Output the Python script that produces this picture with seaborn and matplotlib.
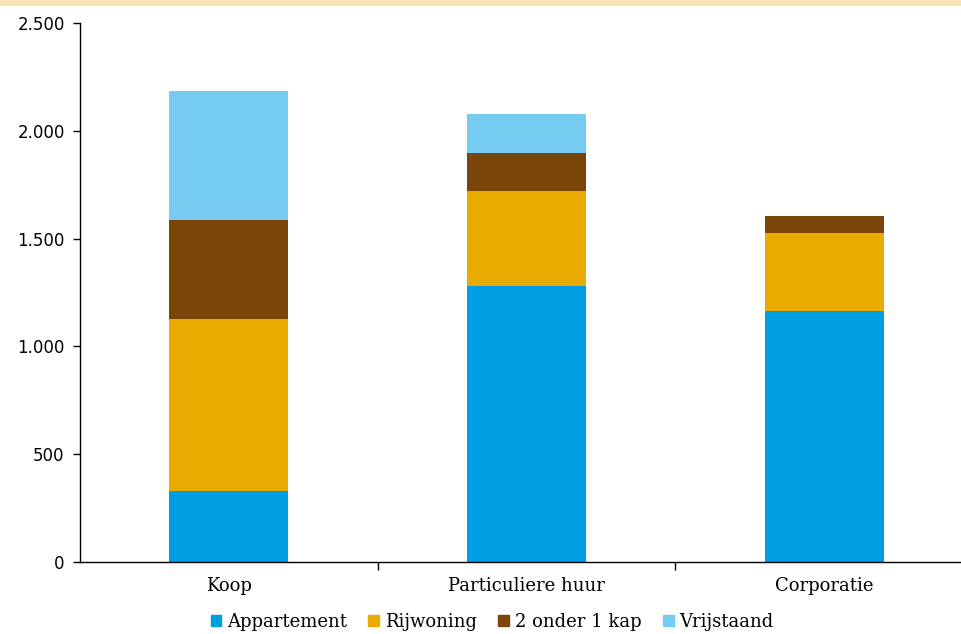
import numpy as np
import pandas as pd
import matplotlib.pyplot as plt
import matplotlib.patches as mpatches
import seaborn as sns

# data
categories = ["Koop", "Particuliere huur", "Corporatie"]
series_names = ["Appartement", "Rijwoning", "2 onder 1 kap", "Vrijstaand"]
appartement = [330, 1280, 1165]
rijwoning = [797, 440, 360]
twee_onder_een_kap = [460, 177, 80]
vrijstaand = [598, 182, 0]
colors = ["#009fe3", "#e9ab00", "#7a4509", "#76ccf0"]

sns.set_style("white")
plt.rcParams["text.color"] = "black"
plt.rcParams["xtick.color"] = "black"
plt.rcParams["ytick.color"] = "black"

values = np.array([appartement, rijwoning, twee_onder_een_kap, vrijstaand])
cumulative = np.cumsum(values, axis=0)

fig = plt.figure(figsize=(9.62, 6.34), dpi=100)
W, H = 962, 634
ax = fig.add_axes([80 / W, 1 - 562 / H, (971 - 78) / W, (562 - 23) / H])

# top band
fig.patches.append(mpatches.Rectangle((0, 1 - 5 / H), 1, 5 / H, transform=fig.transFigure,
                                      color="#fbe3b9", zorder=0))

# draw stacked bars: tallest cumulative first, then overlay lower ones
for i in range(len(series_names) - 1, -1, -1):
    df = pd.DataFrame({"cat": categories, "val": cumulative[i]})
    sns.barplot(data=df, x="cat", y="val", color=colors[i], width=0.4,
                saturation=1, ax=ax, edgecolor="none", linewidth=0)

ax.set_xlim(-0.5, 2.5)
ax.set_ylim(0, 2500)
ax.set_yticks(range(0, 2501, 500))
ax.set_yticklabels([f"{v:,}".replace(",", ".") for v in range(0, 2501, 500)],
                   fontsize=12, family="DejaVu Sans", color="black")
ax.set_xlabel("")
ax.set_ylabel("")

# x tick marks between categories, labels at category centres
ax.set_xticks([0.5, 1.5, 2.5])
ax.set_xticklabels([])
ax.set_xticks([0, 1, 2], minor=True)
ax.set_xticklabels(categories, minor=True, fontsize=13, family="DejaVu Serif", color="black")
ax.tick_params(axis="x", which="minor", bottom=True, length=0, pad=11)
ax.tick_params(axis="x", which="major", bottom=True, length=6, width=1, direction="out", color="black")
ax.tick_params(axis="y", left=True, length=5, width=1, direction="out", color="black", pad=6)

for s in ["top", "right"]:
    ax.spines[s].set_visible(False)
for s in ["left", "bottom"]:
    ax.spines[s].set_color("black")
    ax.spines[s].set_linewidth(1)

handles = [mpatches.Patch(color=c, label=n) for c, n in zip(colors, series_names)]
fig.legend(handles=handles, loc="center", bbox_to_anchor=(492 / W, 1 - 622 / H), ncol=4,
           frameon=False, prop={"family": "DejaVu Serif", "size": 13},
           handlelength=0.6, handleheight=0.6, handletextpad=0.3, columnspacing=1.2)

fig.savefig("out.png", dpi=100)
